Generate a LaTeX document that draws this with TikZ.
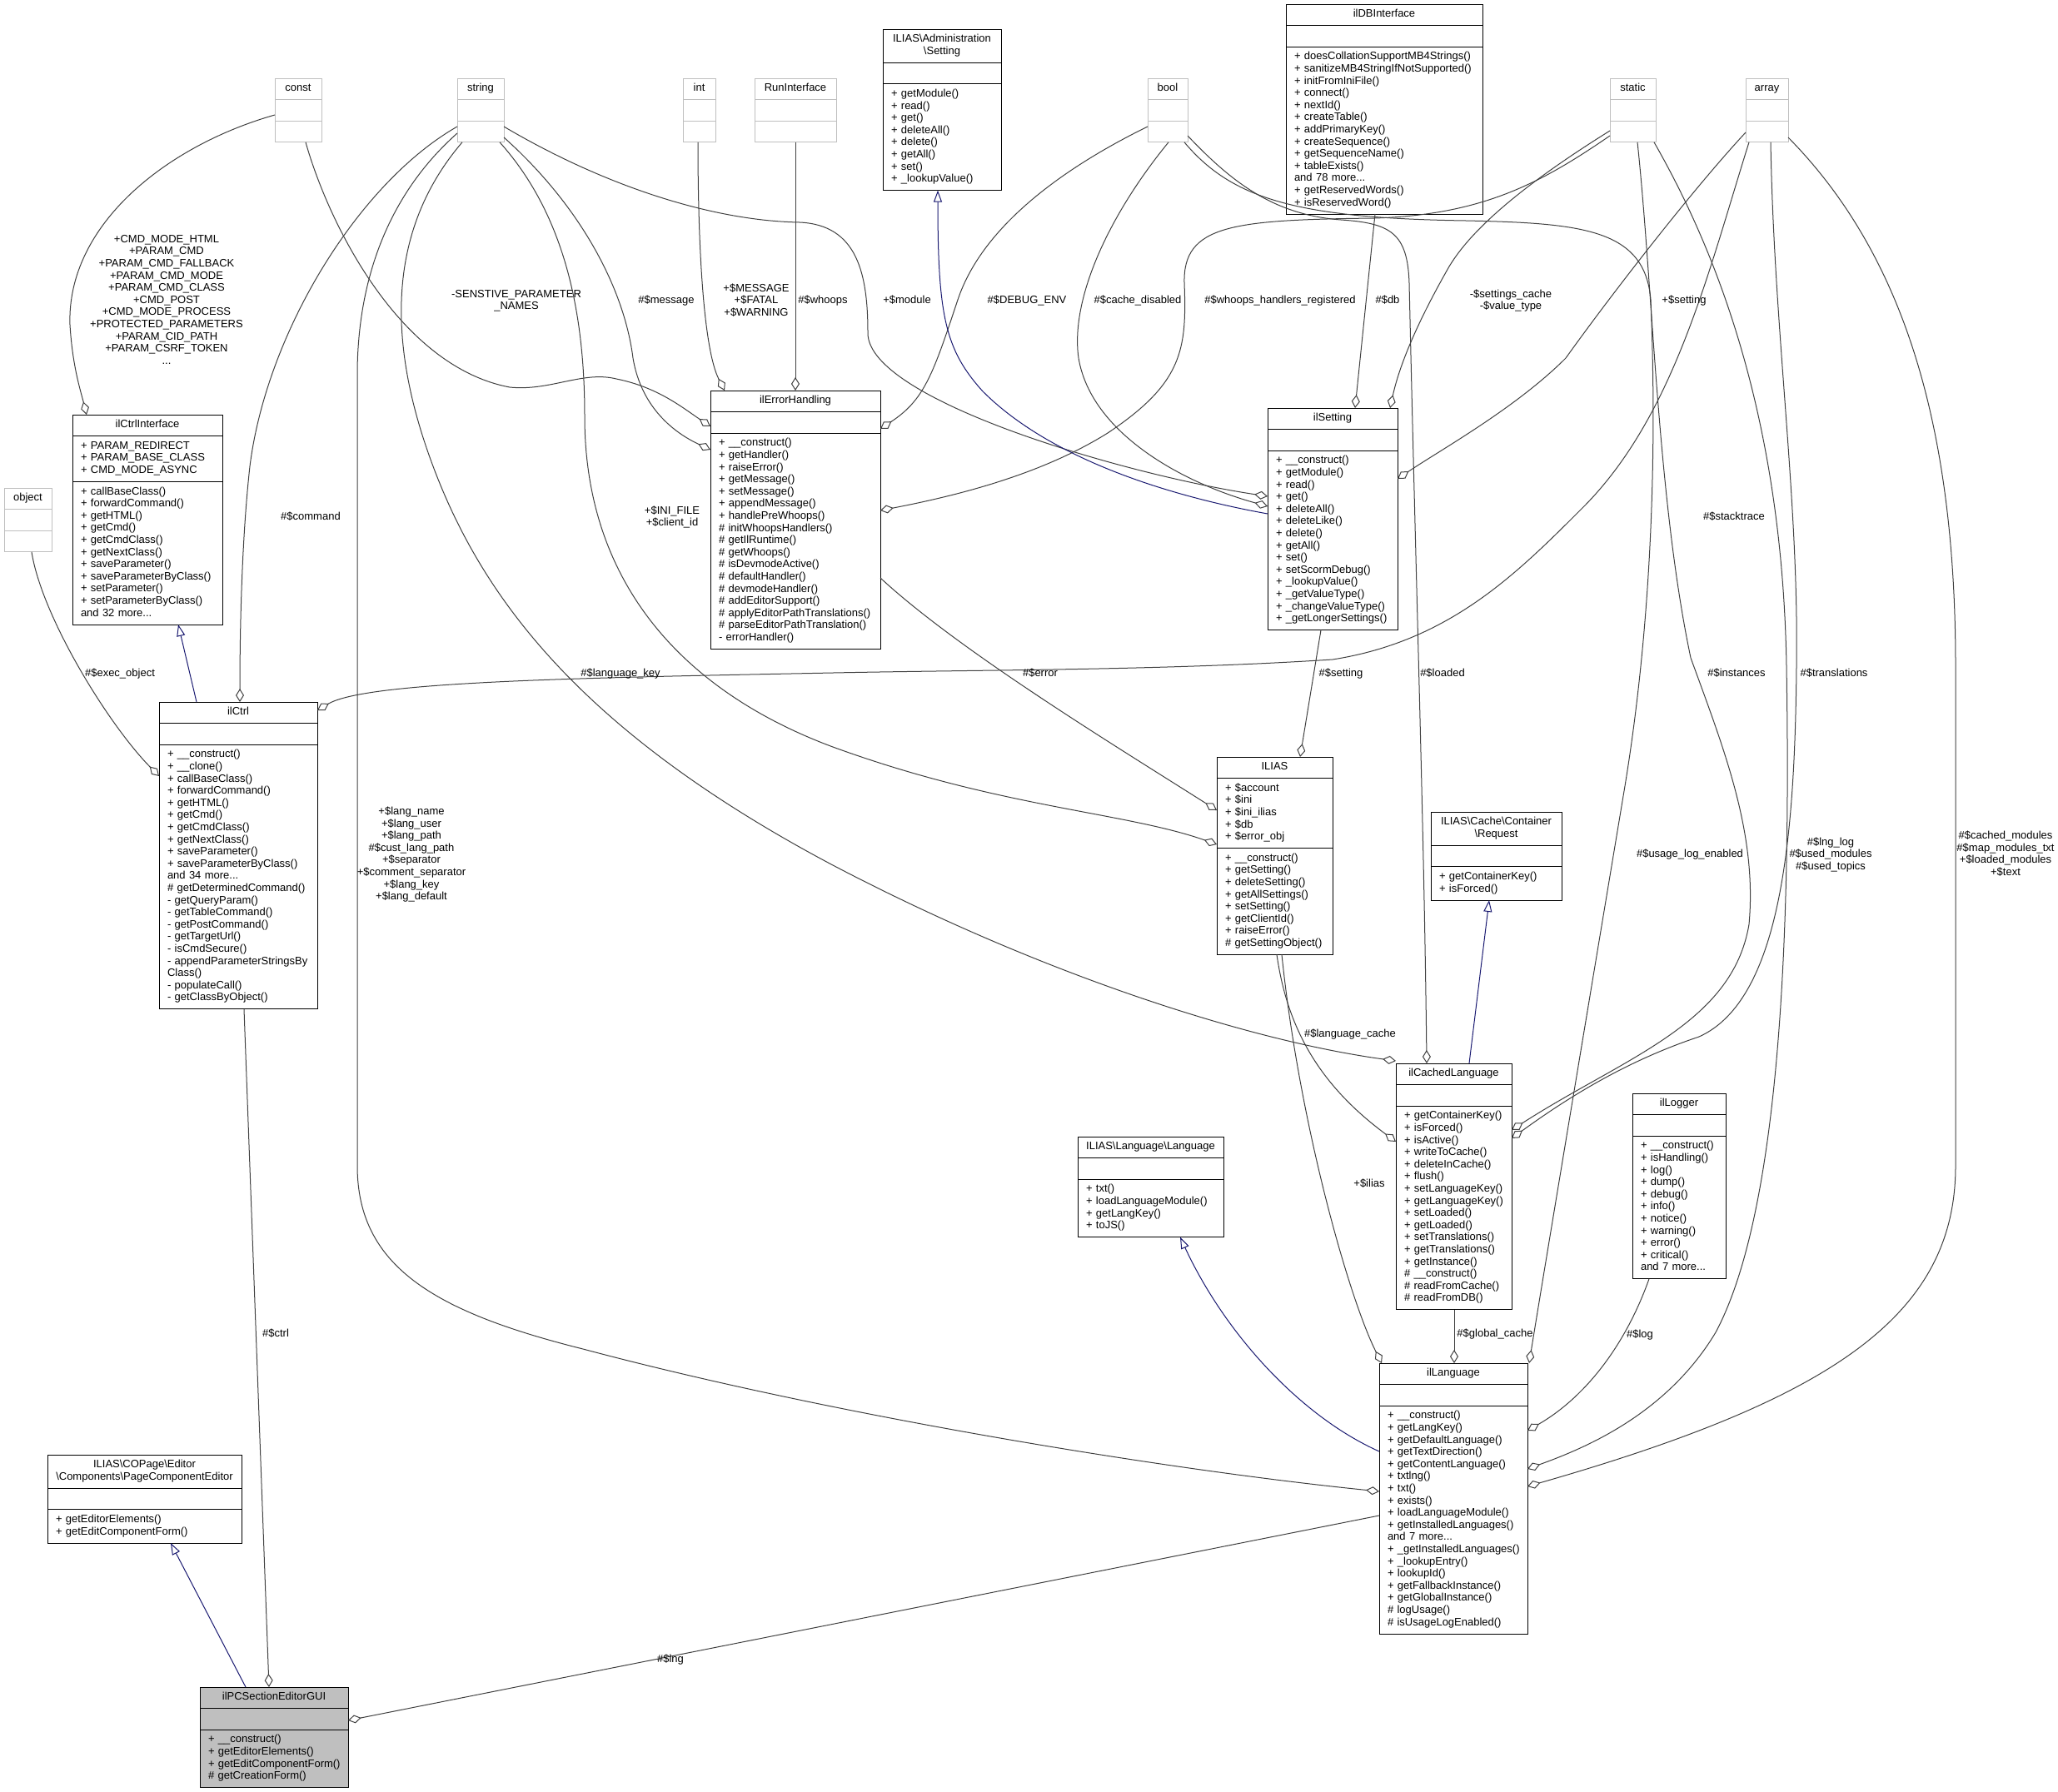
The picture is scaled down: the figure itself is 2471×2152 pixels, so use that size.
\documentclass[tikz,border=0pt]{standalone}
\usepackage{fontspec}
\setmainfont{Liberation Sans}
\usetikzlibrary{arrows.meta,fit}
\definecolor{edgegray}{HTML}{404040}
\definecolor{navyline}{HTML}{191970}
\definecolor{ghostgray}{HTML}{BFBFBF}
\definecolor{focusgray}{HTML}{BFBFBF}
\tikzset{
  compart/.style={draw=black, fill=white, line width=1pt, inner xsep=10pt, inner ysep=5.5pt, outer sep=0pt,
    font={\fontsize{13}{14.6}\selectfont\hyphenpenalty=10000 },
    execute at begin node=\strut, execute at end node=\strut},
  ghost/.style={draw=ghostgray},
  focus/.style={fill=focusgray},
  member/.style={draw=edgegray, line width=1pt, -{Diamond[fill=white,length=16pt,width=10pt]}},
  inherit/.style={draw=navyline, line width=1pt, -{Triangle[fill=white,length=14pt,width=10pt]}},
  lbl/.style={font=\fontsize{13}{14.6}\selectfont, align=center, inner sep=0pt,
    execute at begin node=\strut, execute at end node=\strut},
}
% #1 style, #2 name, #3 top left, #4 width, #5 title, #6 attributes, #7 operations
\newcommand{\umlclass}[7][]{%
  \pgfmathsetmacro{\classtw}{#4-20}%
  \node[compart, #1, text width=\classtw pt, align=center, anchor=north west] (#2-t) at (#3) {#5};
  \node[compart, #1, text width=\classtw pt, align=left, anchor=north west] (#2-a) at (#2-t.south west) {#6};
  \node[compart, #1, text width=\classtw pt, align=left, anchor=north west] (#2-o) at (#2-a.south west) {#7};
  \node[fit=(#2-t)(#2-o), inner sep=0pt, outer sep=0pt] (#2) {};
}
\begin{document}
\begin{tikzpicture}[x=1pt, y=-1pt]
    \useasboundingbox (0,0) rectangle (2471,2152);
    %
    \umlclass[ghost]{const}{330,94}{56}{const}{}{}
    \umlclass[ghost]{string}{549,94}{56}{string}{}{}
    \umlclass[ghost]{int}{820,94}{39}{int}{}{}
    \umlclass[ghost]{runif}{906,94}{98}{RunInterface}{}{}
    \umlclass[ghost]{bool}{1378,94}{48}{bool}{}{}
    \umlclass[ghost]{static}{1933,94}{55}{static}{}{}
    \umlclass[ghost]{array}{2096,94}{51}{array}{}{}
    \umlclass[ghost]{object}{5,586}{57}{object}{}{}
    %
    \umlclass{adminsetting}{1060,35}{142}{ILIAS\textbackslash Administration\\\textbackslash Setting}{}{+~getModule()\\+~read()\\+~get()\\+~deleteAll()\\+~delete()\\+~getAll()\\+~set()\\+~\_lookupValue()}
    \umlclass{ilDBInterface}{1544,5}{236}{ilDBInterface}{}{+~doesCollationSupportMB4Strings()\\+~sanitizeMB4StringIfNotSupported()\\+~initFromIniFile()\\+~connect()\\+~nextId()\\+~createTable()\\+~addPrimaryKey()\\+~createSequence()\\+~getSequenceName()\\+~tableExists()\\and 78 more...\\+~getReservedWords()\\+~isReservedWord()}
    \umlclass{ilCtrlInterface}{87,498}{180}{ilCtrlInterface}{+~PARAM\_REDIRECT\\+~PARAM\_BASE\_CLASS\\+~CMD\_MODE\_ASYNC}{+~callBaseClass()\\+~forwardCommand()\\+~getHTML()\\+~getCmd()\\+~getCmdClass()\\+~getNextClass()\\+~saveParameter()\\+~saveParameterByClass()\\+~setParameter()\\+~setParameterByClass()\\and 32 more...}
    \umlclass{ilErrorHandling}{853,469}{204}{ilErrorHandling}{}{+~\_\_construct()\\+~getHandler()\\+~raiseError()\\+~getMessage()\\+~setMessage()\\+~appendMessage()\\+~handlePreWhoops()\\\#~initWhoopsHandlers()\\\#~getIlRuntime()\\\#~getWhoops()\\\#~isDevmodeActive()\\\#~defaultHandler()\\\#~devmodeHandler()\\\#~addEditorSupport()\\\#~applyEditorPathTranslations()\\\#~parseEditorPathTranslation()\\-~errorHandler()}
    \umlclass{ilSetting}{1522,490}{156}{ilSetting}{}{+~\_\_construct()\\+~getModule()\\+~read()\\+~get()\\+~deleteAll()\\+~deleteLike()\\+~delete()\\+~getAll()\\+~set()\\+~setScormDebug()\\+~\_lookupValue()\\+~\_getValueType()\\+~\_changeValueType()\\+~\_getLongerSettings()}
    \umlclass{ilCtrl}{191,843}{190}{ilCtrl}{}{+~\_\_construct()\\+~\_\_clone()\\+~callBaseClass()\\+~forwardCommand()\\+~getHTML()\\+~getCmd()\\+~getCmdClass()\\+~getNextClass()\\+~saveParameter()\\+~saveParameterByClass()\\and 34 more...\\\#~getDeterminedCommand()\\-~getQueryParam()\\-~getTableCommand()\\-~getPostCommand()\\-~getTargetUrl()\\-~isCmdSecure()\\-~appendParameterStringsBy\\Class()\\-~populateCall()\\-~getClassByObject()}
    \umlclass{ILIAS}{1461,909}{139}{ILIAS}{+~\$account\\+~\$ini\\+~\$ini\_ilias\\+~\$db\\+~\$error\_obj}{+~\_\_construct()\\+~getSetting()\\+~deleteSetting()\\+~getAllSettings()\\+~setSetting()\\+~getClientId()\\+~raiseError()\\\#~getSettingObject()}
    \umlclass{request}{1718,975}{157}{ILIAS\textbackslash Cache\textbackslash Container\\\textbackslash Request}{}{+~getContainerKey()\\+~isForced()}
    \umlclass{ilCachedLanguage}{1676,1277}{139}{ilCachedLanguage}{}{+~getContainerKey()\\+~isForced()\\+~isActive()\\+~writeToCache()\\+~deleteInCache()\\+~flush()\\+~setLanguageKey()\\+~getLanguageKey()\\+~setLoaded()\\+~getLoaded()\\+~setTranslations()\\+~getTranslations()\\+~getInstance()\\\#~\_\_construct()\\\#~readFromCache()\\\#~readFromDB()}
    \umlclass{ilLogger}{1960,1313}{112}{ilLogger}{}{+~\_\_construct()\\+~isHandling()\\+~log()\\+~dump()\\+~debug()\\+~info()\\+~notice()\\+~warning()\\+~error()\\+~critical()\\and 7 more...}
    \umlclass{language}{1294,1365}{175}{ILIAS\textbackslash Language\textbackslash Language}{}{+~txt()\\+~loadLanguageModule()\\+~getLangKey()\\+~toJS()}
    \umlclass{ilLanguage}{1656,1637}{178}{ilLanguage}{}{+~\_\_construct()\\+~getLangKey()\\+~getDefaultLanguage()\\+~getTextDirection()\\+~getContentLanguage()\\+~txtlng()\\+~txt()\\+~exists()\\+~loadLanguageModule()\\+~getInstalledLanguages()\\and 7 more...\\+~\_getInstalledLanguages()\\+~\_lookupEntry()\\+~lookupId()\\+~getFallbackInstance()\\+~getGlobalInstance()\\\#~logUsage()\\\#~isUsageLogEnabled()}
    \umlclass{pceditor}{57,1747}{233}{ILIAS\textbackslash COPage\textbackslash Editor\\\textbackslash Components\textbackslash PageComponentEditor}{}{+~getEditorElements()\\+~getEditComponentForm()}
    \umlclass[focus]{ilPCSectionEditorGUI}{240,2026}{178}{ilPCSectionEditorGUI}{}{+~\_\_construct()\\+~getEditorElements()\\+~getEditComponentForm()\\\#~getCreationForm()}
    %
    \draw[member] (const.west |- 0,138) .. controls (200,175) and (80,270) .. (84,390) .. controls (87,440) and (97,470) .. (104,0 |- ilCtrlInterface.north);
    \draw[member] (367,0 |- const.south) .. controls (395,270) and (480,440) .. (612,465) .. controls (660,470) and (700,445) .. (740,455) .. controls (790,465) and (820,490) .. (ilErrorHandling.west |- 0,512);
    \draw[member] (string.west |- 0,152) .. controls (430,220) and (320,400) .. (300,560) .. controls (290,650) and (288,760) .. (288,0 |- ilCtrl.north);
    \draw[member] (string.west |- 0,160) .. controls (470,230) and (429,330) .. (429,450) -- (429,1400) .. controls (429,1520) and (520,1575) .. (700,1620) .. controls (1000,1700) and (1400,1765) .. (ilLanguage.west |- 0,1791);
    \draw[member] (555,0 |- string.south) .. controls (470,270) and (460,400) .. (520,560) .. controls (580,720) and (700,880) .. (1000,1039) .. controls (1250,1170) and (1500,1250) .. (ilCachedLanguage.west |- 0,1274);
    \draw[member] (600,0 |- string.south) .. controls (680,260) and (702,380) .. (702,500) .. controls (702,700) and (820,830) .. (1000,897) .. controls (1200,970) and (1350,975) .. (ILIAS.west |- 0,1014);
    \draw[member] (string.east |- 0,165) .. controls (700,250) and (750,350) .. (760,430) .. controls (770,490) and (810,520) .. (ilErrorHandling.west |- 0,540);
    \draw[member] (string.east |- 0,152) .. controls (720,220) and (850,265) .. (960,267) .. controls (1030,270) and (1042,330) .. (1042,400) .. controls (1042,480) and (1350,570) .. (ilSetting.west |- 0,596);
    \draw[member] (838,0 |- int.south) .. controls (838,300) and (845,420) .. (870,0 |- ilErrorHandling.north);
    \draw[member] (955,0 |- runif.south) -- (955,0 |- ilErrorHandling.north);
    \draw[member] (bool.west |- 0,152) .. controls (1280,200) and (1180,270) .. (1150,360) .. controls (1120,450) and (1110,480) .. (ilErrorHandling.east |- 0,515);
    \draw[member] (1403,0 |- bool.south) .. controls (1330,260) and (1285,360) .. (1295,430) .. controls (1310,520) and (1420,580) .. (ilSetting.west |- 0,608);
    \draw[member] (bool.east |- 0,163) .. controls (1480,220) and (1530,258) .. (1610,264) .. controls (1670,268) and (1690,280) .. (1692,340) .. controls (1700,700) and (1710,1000) .. (1713,0 |- ilCachedLanguage.north);
    \draw[member] (1422,0 |- bool.south) .. controls (1480,240) and (1560,262) .. (1760,265) .. controls (1900,268) and (1975,275) .. (1982,360) .. controls (1992,600) and (1975,800) .. (1950,950) .. controls (1900,1250) and (1850,1550) .. (1836,0 |- ilLanguage.north);
    \draw[member] (static.west |- 0,163) .. controls (1850,220) and (1780,258) .. (1650,262) .. controls (1480,264) and (1420,270) .. (1422,340) .. controls (1425,420) and (1420,460) .. (1330,520) .. controls (1250,570) and (1150,595) .. (ilErrorHandling.east |- 0,613);
    \draw[member] (static.west |- 0,157) .. controls (1840,215) and (1770,270) .. (1740,320) .. controls (1700,390) and (1680,440) .. (1669,0 |- ilSetting.north);
    \draw[member] (1966,0 |- static.south) .. controls (1985,350) and (1990,600) .. (2030,790) .. controls (2070,900) and (2110,1000) .. (2100,1110) .. controls (2080,1230) and (1950,1270) .. (ilCachedLanguage.east |- 0,1357);
    \draw[member] (1986,0 |- static.south) .. controls (2060,300) and (2140,500) .. (2145,800) .. controls (2150,1100) and (2140,1450) .. (2060,1600) .. controls (2000,1700) and (1900,1740) .. (ilLanguage.east |- 0,1764);
    \draw[member] (2126,0 |- array.south) .. controls (2130,400) and (2160,600) .. (2157,800) .. controls (2155,1000) and (2140,1200) .. (2040,1245) .. controls (1950,1275) and (1880,1320) .. (ilCachedLanguage.east |- 0,1367);
    \draw[member] (array.east |- 0,165) .. controls (2280,300) and (2348,500) .. (2348,800) -- (2348,1400) .. controls (2348,1580) and (2200,1680) .. (ilLanguage.east |- 0,1785);
    \draw[member] (array.west |- 0,159) .. controls (2030,230) and (1930,360) .. (1880,430) .. controls (1820,490) and (1730,540) .. (ilSetting.east |- 0,575);
    \draw[member] (2100,0 |- array.south) .. controls (2050,330) and (2010,500) .. (1900,610) .. controls (1820,690) and (1740,770) .. (1600,792) .. controls (1400,805) and (1200,804) .. (1000,808) .. controls (700,814) and (440,818) .. (ilCtrl.east |- 0,853);
    \draw[member] (1651,0 |- ilDBInterface.south) -- (1627,0 |- ilSetting.north);
    \draw[member] (1586,0 |- ilSetting.south) -- (1561,0 |- ILIAS.north);
    \draw[member] (ilErrorHandling.east |- 0,694) .. controls (1150,780) and (1330,890) .. (ILIAS.west |- 0,973);
    \draw[member] (1533,0 |- ILIAS.south) .. controls (1545,1230) and (1580,1300) .. (ilCachedLanguage.west |- 0,1371);
    \draw[member] (1539,0 |- ILIAS.south) .. controls (1560,1350) and (1620,1560) .. (1659,0 |- ilLanguage.north);
    \draw[member] (1746,0 |- ilCachedLanguage.south) -- (1746,0 |- ilLanguage.north);
    \draw[member] (1980,0 |- ilLogger.south) .. controls (1950,1620) and (1900,1680) .. (ilLanguage.east |- 0,1718);
    \draw[member] (293,0 |- ilCtrl.south) -- (323,0 |- ilPCSectionEditorGUI.north);
    \draw[member] (ilLanguage.west |- 0,1820) -- (ilPCSectionEditorGUI.east |- 0,2066);
    \draw[member] (38,0 |- object.south) .. controls (50,740) and (130,870) .. (ilCtrl.west |- 0,932);
    %
    \draw[inherit] (236,0 |- ilCtrl.north) -- (214,0 |- ilCtrlInterface.south);
    \draw[inherit] (ilSetting.west |- 0,617) .. controls (1400,595) and (1260,550) .. (1180,470) .. controls (1135,420) and (1126,380) .. (1126,0 |- adminsetting.south);
    \draw[inherit] (1764,0 |- ilCachedLanguage.north) -- (1788,0 |- request.south);
    \draw[inherit] (ilLanguage.west |- 0,1743) .. controls (1560,1700) and (1470,1600) .. (1417,0 |- language.south);
    \draw[inherit] (295,0 |- ilPCSectionEditorGUI.north) -- (205,0 |- pceditor.south);
    %
    \node[lbl] (l-cmd) at (200,362) {+CMD\_MODE\_HTML\\+PARAM\_CMD\\+PARAM\_CMD\_FALLBACK\\+PARAM\_CMD\_MODE\\+PARAM\_CMD\_CLASS\\+CMD\_POST\\+CMD\_MODE\_PROCESS\\+PROTECTED\_PARAMETERS\\+PARAM\_CID\_PATH\\+PARAM\_CSRF\_TOKEN\\...};
    \node[lbl] (l-sensitive) at (620,362) {-SENSTIVE\_PARAMETER\\\_NAMES};
    \node[lbl] (l-message) at (800,362) {\#\$message};
    \node[lbl] (l-levels) at (908,362) {+\$MESSAGE\\+\$FATAL\\+\$WARNING};
    \node[lbl] (l-whoops) at (988,362) {\#\$whoops};
    \node[lbl] (l-module) at (1089,362) {+\$module};
    \node[lbl] (l-debug) at (1233,362) {\#\$DEBUG\_ENV};
    \node[lbl] (l-cachedis) at (1366,362) {\#\$cache\_disabled};
    \node[lbl] (l-handlers) at (1537,362) {\#\$whoops\_handlers\_registered};
    \node[lbl] (l-db) at (1666,362) {\#\$db};
    \node[lbl] (l-settcache) at (1814,362) {-\$settings\_cache\\-\$value\_type};
    \node[lbl] (l-setarr) at (2022,362) {+\$setting};
    \node[lbl] (l-command) at (373,622) {\#\$command};
    \node[lbl] (l-inifile) at (807,622) {+\$INI\_FILE\\+\$client\_id};
    \node[lbl] (l-stack) at (2082,622) {\#\$stacktrace};
    \node[lbl] (l-exec) at (144,810) {\#\$exec\_object};
    \node[lbl] (l-langkey) at (745,810) {\#\$language\_key};
    \node[lbl] (l-error) at (1249,810) {\#\$error};
    \node[lbl] (l-setting) at (1610,810) {\#\$setting};
    \node[lbl] (l-loaded) at (1732,810) {\#\$loaded};
    \node[lbl] (l-instances) at (2085,810) {\#\$instances};
    \node[lbl] (l-transl) at (2202,810) {\#\$translations};
    \node[lbl] (l-langname) at (494,1027) {+\$lang\_name\\+\$lang\_user\\+\$lang\_path\\\#\$cust\_lang\_path\\+\$separator\\+\$comment\_separator\\+\$lang\_key\\+\$lang\_default};
    \node[lbl] (l-usagelog) at (2029,1027) {\#\$usage\_log\_enabled};
    \node[lbl] (l-lnglog) at (2198,1027) {\#\$lng\_log\\\#\$used\_modules\\\#\$used\_topics};
    \node[lbl] (l-modules) at (2408,1027) {\#\$cached\_modules\\\#\$map\_modules\_txt\\+\$loaded\_modules\\+\$text};
    \node[lbl] (l-langcache) at (1621,1243) {\#\$language\_cache};
    \node[lbl] (l-ilias) at (1644,1423) {+\$ilias};
    \node[lbl] (l-ctrl) at (331,1603) {\#\$ctrl};
    \node[lbl] (l-global) at (1795,1603) {\#\$global\_cache};
    \node[lbl] (l-log) at (1969,1604) {\#\$log};
    \node[lbl] (l-lng) at (805,1994) {\#\$lng};
\end{tikzpicture}
\end{document}
